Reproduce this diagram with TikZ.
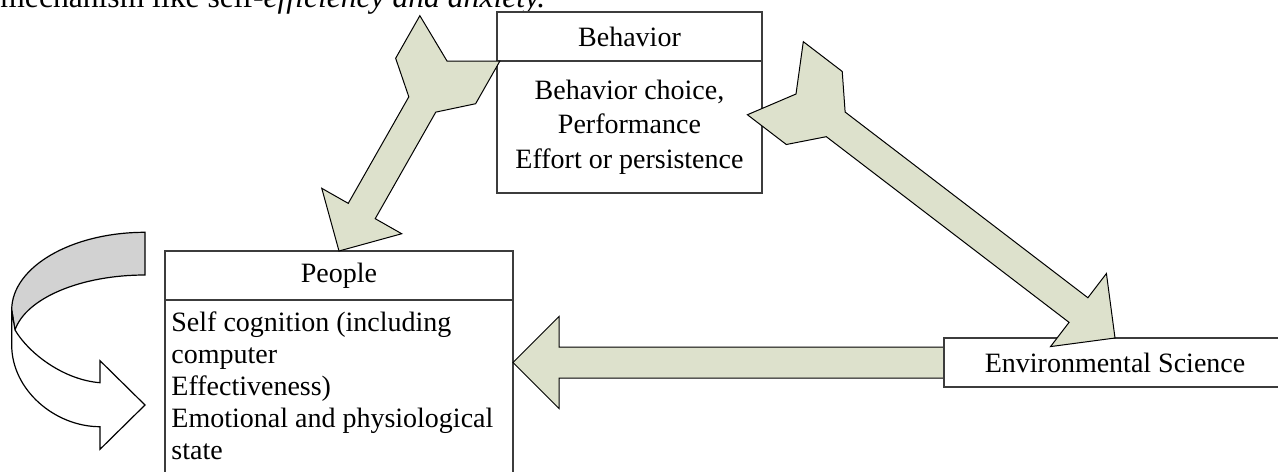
\documentclass[tikz,border=0pt]{standalone}
\usepackage{fontspec}
\setmainfont{Liberation Serif}
\usepackage{tikz}
\usetikzlibrary{calc,positioning}

\definecolor{arrowfill}{RGB}{221,225,204}
\definecolor{bandgrey}{RGB}{210,210,210}
\definecolor{boxline}{RGB}{60,60,60}

% notched block arrow: #1 = notch of the tail, #2 = tip
\newcommand{\blockarrow}[2]{%
  \draw[fatarrow] (#1)
    -- ($(#1)!-13pt!(#2)!23pt!90:(#2)$)
    -- ($(#1)!11.5pt!(#2)!23pt!90:(#2)$)
    -- ($(#1)!25pt!(#2)!7.75pt!90:(#2)$)
    -- ($(#2)!23pt!(#1)!7.75pt!90:(#2)$)
    -- ($(#2)!23pt!(#1)!23pt!90:(#2)$)
    -- (#2)
    -- ($(#2)!23pt!(#1)!23pt!-90:(#2)$)
    -- ($(#2)!23pt!(#1)!7.75pt!-90:(#2)$)
    -- ($(#1)!25pt!(#2)!7.75pt!-90:(#2)$)
    -- ($(#1)!11.5pt!(#2)!23pt!-90:(#2)$)
    -- ($(#1)!-13pt!(#2)!23pt!-90:(#2)$)
    -- cycle;}
% block arrow with a plain tail: #1 = tail, #2 = tip
\newcommand{\plainarrow}[2]{%
  \draw[fatarrow] ($(#1)!7.75pt!90:(#2)$)
    -- ($(#2)!23pt!(#1)!7.75pt!90:(#2)$)
    -- ($(#2)!23pt!(#1)!23pt!90:(#2)$)
    -- (#2)
    -- ($(#2)!23pt!(#1)!23pt!-90:(#2)$)
    -- ($(#2)!23pt!(#1)!7.75pt!-90:(#2)$)
    -- ($(#1)!7.75pt!-90:(#2)$)
    -- cycle;}

\begin{document}
\begin{tikzpicture}[
    x=0.5pt, y=-0.5pt,
    font=\fontsize{14}{16.5}\selectfont,
    box/.style={draw=boxline, line width=0.75pt, fill=white, rectangle, outer sep=0pt, inner sep=0pt},
    headbox/.style={box, minimum height=24.5pt},
    fatarrow/.style={draw=black, line width=0.5pt, fill=arrowfill, line join=miter},
    band/.style={draw=black, line width=0.6pt}
]
    \useasboundingbox (0,0) rectangle (1278,471);
    \clip (0,0) rectangle (1278,471);

    \node[anchor=base west, inner sep=0pt, font=\fontsize{15.8}{18}\selectfont] (caption) at (0,8)
        {mechanism like self-\textit{efficiency and anxiety.}};

    % Behavior
    \node[headbox, minimum width=132.5pt] (behavhead) at (629.5,36.5) {Behavior};
    \node[box, minimum width=132.5pt, minimum height=66pt, align=center,
          font=\fontsize{14}{17.25}\selectfont, below=0pt of behavhead] (behavbody)
        {Behavior choice,\\Performance\\Effort or persistence};

    % People
    \node[headbox, minimum width=174pt] (peoplehead) at (339,275.5) {People};
    \node[box, anchor=north west, minimum width=174pt, minimum height=95pt] (peoplebody)
        at (peoplehead.south west) {};
    \node[anchor=north west, inner sep=0pt, align=left,
          font=\fontsize{14}{16}\selectfont] (peopletext) at ($(peoplebody.north west)+(6,11)$)
        {Self cognition (including\\computer\\Effectiveness)\\Emotional and physiological\\state};

    % curved arrow back into People
    \draw[band, fill=bandgrey] (145,232.3) .. controls (71.4,232.3) and (11.7,267.1) .. (11.7,310)
        -- (15,330) .. controls (26,298) and (81,275) .. (145,275) -- cycle;
    \draw[band, fill=white] (11.7,310) -- (11.7,345) .. controls (11.7,390) and (55,426.7) .. (100,426.7)
        -- (100,449.3) -- (145,405) -- (100,360.7) -- (100,382.7)
        .. controls (65,380) and (30,355) .. (15,330) -- cycle;

    % Environmental Science, arrow behind it first
    \coordinate (envc) at (1115,362.5);
    \coordinate (peopleright) at (peoplebody.east |- envc);
    \plainarrow{envc}{peopleright}
    \node[headbox, minimum width=171pt] (envsci) at (envc) {Environmental Science};

    % arrows out of Behavior
    \coordinate (notchA) at ($(behavhead.south west)+(-50,0)$);
    \coordinate (notchB) at ($(behavbody.north east)+(34,33)$);
    \blockarrow{notchA}{peoplehead.north}
    \blockarrow{notchB}{envsci.north}
\end{tikzpicture}
\end{document}
